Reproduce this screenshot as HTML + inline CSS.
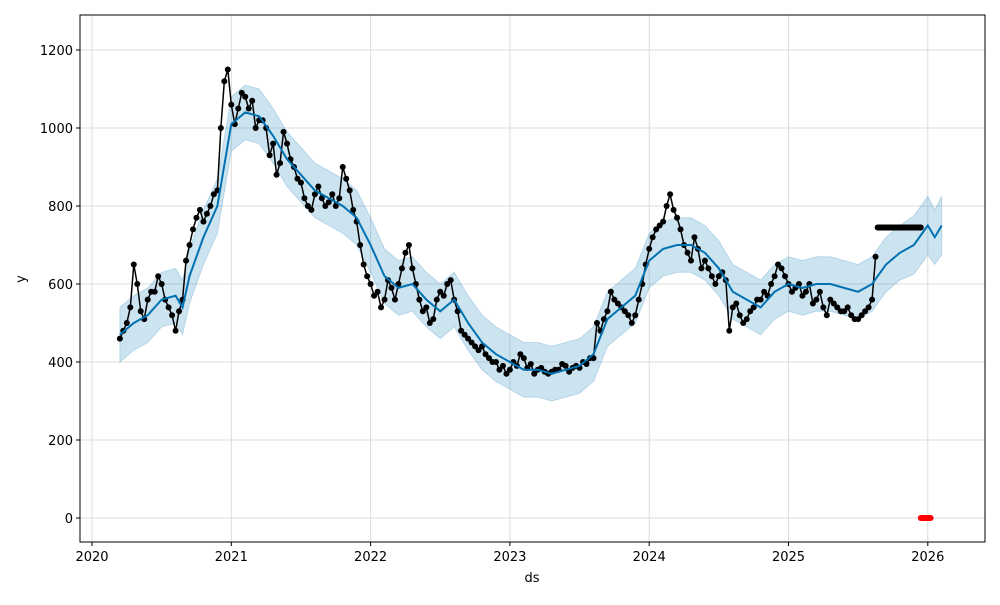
<!DOCTYPE html>
<html><head><meta charset="utf-8"><style>
body{margin:0;background:#fff}
svg text{font-family:"DejaVu Sans","Liberation Sans",sans-serif;font-size:13px;fill:#000}
</style></head><body>
<svg id="chart" width="1000" height="600">
<g id="grid"></g>
<g id="band"></g>
<g id="obs"></g>
<g id="fc"></g>
<g id="axes"></g>
<text x="532" y="582" text-anchor="middle">ds</text>
<text x="0" y="0" transform="translate(25,279) rotate(-90)" text-anchor="middle">y</text>
</svg>
<script>
const yTicks=[0,200,400,600,800,1000,1200];
const xTicks=[2020,2021,2022,2023,2024,2025,2026];
const fcDates=[2020.2,2020.3,2020.4,2020.5,2020.6,2020.65,2020.7,2020.8,2020.9,2021.0,2021.1,2021.2,2021.3,2021.4,2021.5,2021.6,2021.7,2021.8,2021.9,2022.0,2022.1,2022.2,2022.3,2022.4,2022.5,2022.6,2022.7,2022.8,2022.9,2023.0,2023.1,2023.2,2023.3,2023.4,2023.5,2023.6,2023.7,2023.8,2023.9,2024.0,2024.1,2024.2,2024.3,2024.4,2024.5,2024.6,2024.7,2024.8,2024.9,2025.0,2025.1,2025.2,2025.3,2025.4,2025.5,2025.6,2025.7,2025.8,2025.9,2026.0,2026.05,2026.1];
const yhat=[470,500,520,560,570,540,620,720,800,1010,1040,1030,980,920,880,840,820,800,770,700,620,590,600,560,530,560,500,450,420,400,380,380,370,380,390,420,510,540,570,660,690,700,700,680,640,580,560,540,580,600,590,600,600,590,580,600,650,680,700,750,720,750];
const bandHalf=[70,70,70,70,70,70,70,70,70,70,70,70,70,70,70,70,70,70,70,70,70,70,70,70,70,70,70,70,70,70,70,70,70,70,70,70,70,70,70,70,70,70,70,70,70,70,70,70,70,70,70,70,70,70,70,70,70,70,75,75,70,75];
const obsDates=[2020.2,2020.25,2020.3,2020.35,2020.4,2020.45,2020.5,2020.55,2020.6,2020.65,2020.7,2020.75,2020.8,2020.85,2020.9,2020.95,2021.0,2021.05,2021.1,2021.15,2021.2,2021.25,2021.3,2021.35,2021.4,2021.45,2021.5,2021.55,2021.6,2021.65,2021.7,2021.75,2021.8,2021.85,2021.9,2021.95,2022.0,2022.05,2022.1,2022.15,2022.2,2022.25,2022.3,2022.35,2022.4,2022.45,2022.5,2022.55,2022.6,2022.65,2022.7,2022.75,2022.8,2022.85,2022.9,2022.95,2023.0,2023.05,2023.1,2023.15,2023.2,2023.25,2023.3,2023.35,2023.4,2023.45,2023.5,2023.55,2023.6,2023.65,2023.7,2023.75,2023.8,2023.85,2023.9,2023.95,2024.0,2024.05,2024.1,2024.15,2024.2,2024.25,2024.3,2024.35,2024.4,2024.45,2024.5,2024.55,2024.6,2024.65,2024.7,2024.75,2024.8,2024.85,2024.9,2024.95,2025.0,2025.05,2025.1,2025.15,2025.2,2025.25,2025.3,2025.35,2025.4,2025.45,2025.5,2025.55,2025.6];
const obsVals=[460,500,650,530,560,580,600,540,480,560,700,770,760,800,840,1120,1060,1050,1080,1070,1020,1000,960,910,960,900,860,800,830,820,810,800,900,840,760,650,600,580,560,590,600,680,640,560,540,510,580,600,560,480,460,440,440,410,400,390,380,390,410,395,380,375,375,380,390,385,385,395,410,480,530,560,540,520,520,600,690,740,760,830,770,700,660,690,660,620,620,610,540,520,510,540,560,570,620,640,600,590,570,600,560,540,560,540,530,520,510,530,560];
const obsValsB=[480,540,600,510,580,620,560,520,530,660,740,790,780,830,1000,1150,1010,1090,1050,1000,1020,930,880,990,920,870,820,790,850,800,830,820,870,790,700,620,570,540,610,560,640,700,600,530,500,560,570,610,530,470,450,430,420,400,380,370,400,420,385,370,385,370,380,395,375,390,400,410,500,510,580,550,530,500,560,650,720,750,800,790,740,680,720,640,640,600,630,480,550,500,530,560,580,600,650,620,580,600,580,550,580,520,550,530,540,510,520,540,670];
const flatDates=[2025.64,2025.68,2025.72,2025.76,2025.8,2025.84,2025.88,2025.92,2025.95];
const flatVals=[745,745,745,745,745,745,745,745,745];
const zeroDates=[2025.95,2025.97,2025.99,2026.01,2026.02];
const zeroVals=[0,0,0,0,0];

const L=80,R=985,T=15,B=542;
const X=d=>92+(d-2020)*139.3;
const Y=v=>518-v*0.39;
const NS='http://www.w3.org/2000/svg';
function mk(tag,parent,attrs){const e=document.createElementNS(NS,tag);for(const k in attrs)e.setAttribute(k,attrs[k]);document.getElementById(parent).appendChild(e);return e;}

yTicks.forEach(v=>{
  const g=mk('line','grid',{x1:L,x2:R,y1:Y(v),y2:Y(v),stroke:'#ddd','stroke-width':1});
  
  
  const t=mk('line','axes',{x1:L-4,x2:L,y1:Y(v),y2:Y(v),stroke:'#000'});
  
  
  const l=mk('text','axes',{x:L-7,y:Y(v)+5,'text-anchor':'end'});l.textContent=v;
  
  
});
xTicks.forEach(d=>{
  const g=mk('line','grid',{x1:X(d),x2:X(d),y1:T,y2:B,stroke:'#ddd','stroke-width':1});
  
  
  const t=mk('line','axes',{x1:X(d),x2:X(d),y1:B,y2:B+4,stroke:'#000'});
  
  
  const l=mk('text','axes',{x:X(d),y:B+19,'text-anchor':'middle'});l.textContent=d;
  
  
});
const fr=mk('rect','axes',{x:L,y:T,width:R-L,height:B-T,fill:'none',stroke:'#000','stroke-width':1});



let up=fcDates.map((d,i)=>X(d)+','+Y(yhat[i]+bandHalf[i]));
let lo=fcDates.map((d,i)=>X(d)+','+Y(yhat[i]-bandHalf[i])).reverse();
const bp=mk('polygon','band',{points:up.concat(lo).join(' '),fill:'#0072B2','fill-opacity':0.2,stroke:'#0072B2','stroke-opacity':0.2});



const trail=[];
obsDates.forEach((d,i)=>{
  trail.push(X(d)+','+Y(obsVals[i]));
  if(i<obsValsB.length) trail.push(X(d+0.025)+','+Y(obsValsB[i]));
});
const op=mk('polyline','obs',{points:trail.join(' '),fill:'none',stroke:'#000','stroke-width':1.5,'stroke-linejoin':'round'});


obsDates.forEach((d,i)=>{
  const c=mk('circle','obs',{cx:X(d),cy:Y(obsVals[i]),r:3,fill:'#000'});
  
  
  if(i<obsValsB.length){
    const c2=mk('circle','obs',{cx:X(d+0.025),cy:Y(obsValsB[i]),r:3,fill:'#000'});
    
    
  }
});
const fp=mk('polyline','obs',{points:flatDates.map((d,i)=>X(d)+','+Y(flatVals[i])).join(' '),fill:'none',stroke:'#000','stroke-width':6,'stroke-linecap':'round'});


const zp=mk('polyline','obs',{points:zeroDates.map((d,i)=>X(d)+','+Y(zeroVals[i])).join(' '),fill:'none',stroke:'#f00','stroke-width':6,'stroke-linecap':'round'});



const lp=mk('polyline','fc',{points:fcDates.map((d,i)=>X(d)+','+Y(yhat[i])).join(' '),fill:'none',stroke:'#0072B2','stroke-width':2});


</script>
</body></html>
